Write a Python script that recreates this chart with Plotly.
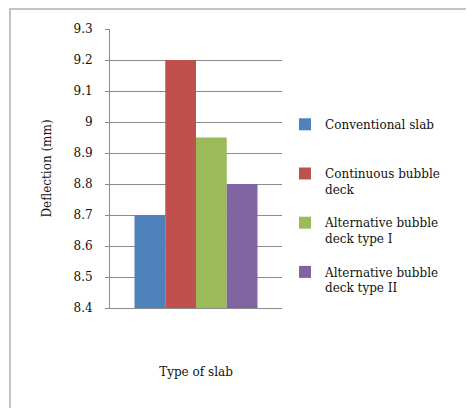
import plotly.graph_objects as go

categories = ["Type of slab"]
series_names = [
    "Conventional slab<br> ",
    "Continuous bubble<br>deck",
    "Alternative bubble<br>deck type I",
    "Alternative bubble<br>deck type II",
]
series_values = [8.70, 9.20, 8.95, 8.80]
series_colors = ["#4F81BD", "#C0504D", "#9BBB59", "#8064A2"]
y_ticks = [8.4, 8.5, 8.6, 8.7, 8.8, 8.9, 9.0, 9.1, 9.2, 9.3]

FONT = "DejaVu Serif"
fig = go.Figure()
for i, (name, val, col) in enumerate(zip(series_names, series_values, series_colors)):
    fig.add_trace(go.Bar(
        x=categories, y=[val - 8.4], base=8.4, name=name,
        marker=dict(color=col, line=dict(width=0)),
        legendgroup=f"g{i}",
    ))

OFF = 8  # page body margin offset
W, H = 474, 408
# desired plot area in window coordinates
WL, WR, WT, WB = 110, 282, 29, 308
L, T = WL - OFF, WT - OFF
R = W - (WR - OFF)
B = H - (WB - OFF)
pw, ph = W - L - R, H - T - B

def px(x):
    return (x - OFF - L) / pw

def py(y):
    return (H - B - (y - OFF)) / ph

fig.update_layout(
    width=W, height=H,
    margin=dict(l=L, r=R, t=T, b=B, pad=0),
    paper_bgcolor="white", plot_bgcolor="white",
    barmode="group", bargap=0.285, bargroupgap=0,
    font=dict(family=FONT, size=12, color="#111"),
    showlegend=True,
    legend=dict(
        x=px(285), y=py(110), xanchor="left", yanchor="top",
        font=dict(family=FONT, size=12, color="#111"),
        tracegroupgap=15, valign="top",
        bgcolor="rgba(0,0,0,0)",
        itemclick=False,
    ),
    xaxis=dict(
        showticklabels=False, ticks="", showgrid=False,
        showline=True, linecolor="#8c8c8c", linewidth=1,
        title=dict(text="Type of slab", standoff=59,
                   font=dict(family=FONT, size=12, color="#111")),
        range=[-0.5, 0.5],
    ),
    yaxis=dict(
        range=[8.4, 9.3], tickvals=y_ticks,
        ticktext=[("%g" % v) for v in y_ticks],
        showgrid=True, gridcolor="#8c8c8c", gridwidth=1,
        showline=True, linecolor="#8c8c8c", linewidth=1,
        ticks="outside", ticklen=4, tickcolor="#8c8c8c",
        ticklabelstandoff=10,
        zeroline=False,
        title=dict(text="Deflection (mm)", standoff=19,
                   font=dict(family=FONT, size=12, color="#111")),
        tickfont=dict(family=FONT, size=12, color="#111"),
    ),
    shapes=[
        dict(type="line", xref="paper", yref="paper",
             x0=px(9), x1=px(490), y0=py(9), y1=py(9),
             line=dict(color="#c4c4c4", width=2)),
        dict(type="line", xref="paper", yref="paper",
             x0=px(10), x1=px(10), y0=py(8), y1=py(420),
             line=dict(color="#c4c4c4", width=2)),
    ],
)

fig.write_html("out.html")
